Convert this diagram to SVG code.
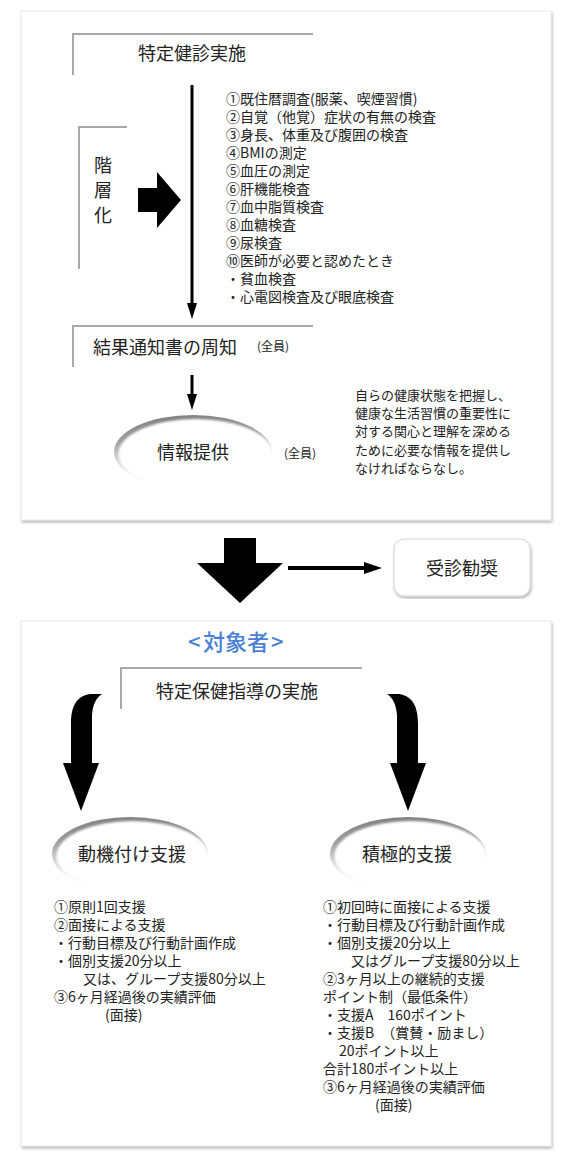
<svg xmlns="http://www.w3.org/2000/svg" width="565" height="1159" viewBox="0 0 565 1159">
<defs>
<style>
text{font-family:"Noto Sans CJK JP","Noto Sans",sans-serif;fill:#222}
.t18{font-size:18px}
.t14{font-size:14px}
.t13{font-size:13px}
.t12{font-size:12px}
.br{fill:none;stroke:#a8a8a8;stroke-width:2}
.panel{fill:#fff;stroke:#e4e4e4;stroke-width:0.8}
.ln{stroke:#000;stroke-width:3;fill:none}
.blk{fill:#000}
</style>
<filter id="sh" x="-5%" y="-5%" width="110%" height="110%">
<feDropShadow dx="1" dy="2" stdDeviation="1.5" flood-color="#000" flood-opacity="0.3"/>
</filter>
<filter id="blur" x="-10%" y="-10%" width="120%" height="120%"><feGaussianBlur stdDeviation="1"/></filter>
<linearGradient id="rim" x1="0" y1="0" x2="0.15" y2="1">
<stop offset="0" stop-color="#7a7a7a"/>
<stop offset="0.35" stop-color="#a0a0a0"/>
<stop offset="0.6" stop-color="#d8d8d8"/>
<stop offset="0.8" stop-color="#f6f6f6"/>
<stop offset="1" stop-color="#ffffff"/>
</linearGradient>
<path id="curv" d="M71,763 L71,724 C71,707 76,696 90,694 L102,694 C96,698 93,704 92,715 L92,763 L99,763 L81,811 L63,763 Z"/>
</defs>
<rect width="565" height="1159" fill="#fff"/>

<g id="panel-top"><rect class="panel" x="21" y="11" width="530" height="509" filter="url(#sh)"/></g>
<g id="panel-bottom"><rect class="panel" x="21" y="621" width="530" height="525" filter="url(#sh)"/></g>

<g id="node-kenshin">
<path class="br" d="M313,34 H73 V75"/>
<text class="t18" x="138" y="60">特定健診実施</text>
</g>

<g id="node-kaisouka">
<path class="br" d="M127,127 H79 V269"/>
<text class="t18" x="94" y="172">階</text>
<text class="t18" x="94" y="197">層</text>
<text class="t18" x="94" y="222">化</text>
</g>

<g id="node-list-top">
<text class="t14">
<tspan x="226" y="104">①既住暦調査(服薬、喫煙習慣)</tspan>
<tspan x="226" y="122">②自覚（他覚）症状の有無の検査</tspan>
<tspan x="226" y="140">③身長、体重及び腹囲の検査</tspan>
<tspan x="226" y="158">④BMIの測定</tspan>
<tspan x="226" y="176">⑤血圧の測定</tspan>
<tspan x="226" y="194">⑥肝機能検査</tspan>
<tspan x="226" y="212">⑦血中脂質検査</tspan>
<tspan x="226" y="230">⑧血糖検査</tspan>
<tspan x="226" y="248">⑨尿検査</tspan>
<tspan x="226" y="266">⑩医師が必要と認めたとき</tspan>
<tspan x="226" y="284">・貧血検査</tspan>
<tspan x="226" y="302">・心電図検査及び眼底検査</tspan>
</text>
</g>

<g id="node-kekka">
<path class="br" d="M313,326 H73 V367"/>
<text class="t18" x="93" y="354">結果通知書の周知</text>
<text class="t12" x="257" y="351">(全員)</text>
</g>

<g id="node-joho">
<ellipse cx="193" cy="452" rx="79" ry="37" fill="url(#rim)"/>
<ellipse cx="195.5" cy="454" rx="77" ry="35" fill="#fff" filter="url(#blur)"/>
<text class="t18" x="193" y="459" text-anchor="middle">情報提供</text>
<text class="t12" x="284" y="458">(全員)</text>
</g>

<g id="node-note">
<text class="t13">
<tspan x="355" y="400">自らの健康状態を把握し、</tspan>
<tspan x="355" y="418">健康な生活習慣の重要性に</tspan>
<tspan x="355" y="436">対する関心と理解を深める</tspan>
<tspan x="355" y="455">ために必要な情報を提供し</tspan>
<tspan x="355" y="473">なければならなし。</tspan>
</text>
</g>

<g id="node-jushin">
<rect x="394" y="539" width="136" height="57" rx="10" fill="#fff" stroke="#d6d6d6" stroke-width="1" filter="url(#sh)"/>
<text class="t18" x="462" y="575" text-anchor="middle">受診勧奨</text>
</g>

<g id="node-taishosha">
<text x="188" y="650" style="font-size:22px;font-weight:500;fill:#4a7fd6">&lt;<tspan dx="2.5">対象者</tspan><tspan dx="2">&gt;</tspan></text>
</g>

<g id="node-hoken">
<path class="br" d="M362,668 H121 V709"/>
<text class="t18" x="156" y="698">特定保健指導の実施</text>
</g>

<g id="node-doki">
<ellipse cx="130" cy="854" rx="78" ry="37" fill="url(#rim)"/>
<ellipse cx="132.5" cy="856" rx="76" ry="35" fill="#fff" filter="url(#blur)"/>
<text class="t18" x="132" y="861" text-anchor="middle">動機付け支援</text>
</g>

<g id="node-sekkyoku">
<ellipse cx="408" cy="854" rx="78" ry="37" fill="url(#rim)"/>
<ellipse cx="410.5" cy="856" rx="76" ry="35" fill="#fff" filter="url(#blur)"/>
<text class="t18" x="407" y="861" text-anchor="middle">積極的支援</text>
</g>

<g id="node-list-doki">
<text class="t14">
<tspan x="54" y="912">①原則1回支援</tspan>
<tspan x="54" y="930">②面接による支援</tspan>
<tspan x="54" y="948">・行動目標及び行動計画作成</tspan>
<tspan x="54" y="966">・個別支援20分以上</tspan>
<tspan x="83" y="984">又は、グループ支援80分以上</tspan>
<tspan x="54" y="1002">③6ヶ月経過後の実績評価</tspan>
<tspan x="105" y="1020">(面接)</tspan>
</text>
</g>

<g id="node-list-sekkyoku">
<text class="t14">
<tspan x="323" y="912">①初回時に面接による支援</tspan>
<tspan x="323" y="930">・行動目標及び行動計画作成</tspan>
<tspan x="323" y="948">・個別支援20分以上</tspan>
<tspan x="351" y="966">又はグループ支援80分以上</tspan>
<tspan x="323" y="984">②3ヶ月以上の継続的支援</tspan>
<tspan x="323" y="1002">ポイント制（最低条件）</tspan>
<tspan x="323" y="1020">・支援A　160ポイント</tspan>
<tspan x="323" y="1038">・支援B　（賞賛・励まし）</tspan>
<tspan x="339" y="1056">20ポイント以上</tspan>
<tspan x="323" y="1074">合計180ポイント以上</tspan>
<tspan x="323" y="1092">③6ヶ月経過後の実績評価</tspan>
<tspan x="375" y="1110">(面接)</tspan>
</text>
</g>

<g id="connectors">
<line class="ln" x1="192" y1="85" x2="192" y2="305"/>
<polygon class="blk" points="187,303 197,303 192,319"/>
<line class="ln" x1="192" y1="375" x2="192" y2="396"/>
<polygon class="blk" points="187,394 197,394 192,410"/>
<path class="blk" d="M138,188 H157 V172 L181,200 L157,228 V212 H138 Z"/>
<path class="blk" d="M224,538 H256 V563 H283 L240,603 L197,563 H224 Z"/>
<line x1="288" y1="568" x2="366" y2="568" stroke="#000" stroke-width="4"/>
<polygon class="blk" points="364,562 382,568 364,574"/>
<use href="#curv" class="blk"/>
<use href="#curv" class="blk" transform="translate(489,0) scale(-1,1)"/>
</g>
</svg>
